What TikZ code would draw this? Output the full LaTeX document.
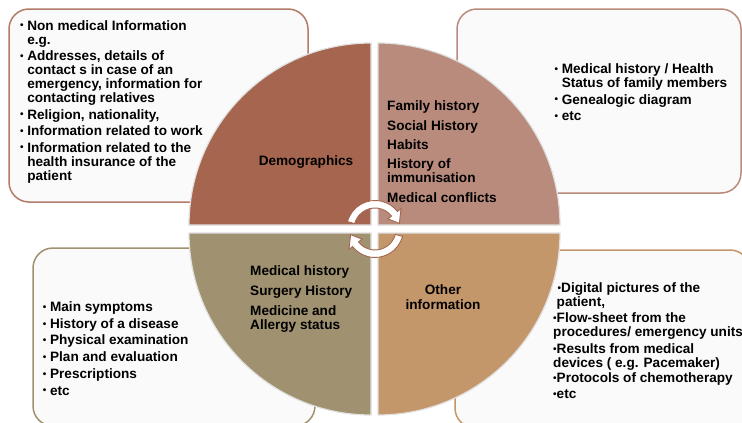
\documentclass[tikz,border=0pt]{standalone}
\usepackage{fontspec}
\setmainfont{Liberation Sans}

\definecolor{demoCol}{HTML}{A5654F}
\definecolor{famCol}{HTML}{B98B7D}
\definecolor{medCol}{HTML}{A09270}
\definecolor{othCol}{HTML}{C4976B}

\newcommand{\bul}{\makebox[7.3pt][l]{\fontsize{10}{10}\selectfont\raisebox{1.2pt}{•}}}
\newcommand{\sbul}{{\fontsize{10}{10}\selectfont\raisebox{1.2pt}{•}}}
\newcommand{\cont}{\hspace*{7.3pt}}

\tikzset{
	sector/.style={draw=black!12, line width=1.2pt},
	infobox/.style={rounded corners=20pt, line width=1.5pt, fill=white!98!black},
	txt/.style={inner sep=0pt, align=left, font=\fontsize{13.6}{14}\selectfont\bfseries},
	cycarrow/.style={draw=demoCol, fill=white, line width=0.9pt}
}

\begin{document}
\begin{tikzpicture}[x=1pt,y=1pt,yscale=-1,xscale=1]
	\path[use as bounding box] (0,0) rectangle (742,423);
	\clip (0,0) rectangle (742,423);
	\fill[white] (0,0) rectangle (742,423);
	
	%Rounded Rect
	\draw[infobox, draw=demoCol!85!white] (9,9) rectangle (308,202);
	%Rounded Rect
	\draw[infobox, draw=famCol] (457,9) rectangle (741,193);
	%Rounded Rect
	\draw[infobox, draw=medCol] (33,248) rectangle (315,426);
	%Rounded Rect
	\draw[infobox, draw=othCol] (455,250) rectangle (750,428);
	
	%Sector
	\draw[sector, fill=demoCol] (371,225) -- (189,225) arc[start angle=180, end angle=270, radius=182] -- cycle;
	%Sector
	\draw[sector, fill=famCol] (378,225) -- (378,43) arc[start angle=270, end angle=360, radius=182] -- cycle;
	%Sector
	\draw[sector, fill=medCol] (371,233) -- (371,415) arc[start angle=90, end angle=180, radius=182] -- cycle;
	%Sector
	\draw[sector, fill=othCol] (378,233) -- (560,233) arc[start angle=0, end angle=90, radius=182] -- cycle;
	
	%Cycle arrows
	\foreach \rot in {0,180}{
		\begin{scope}[shift={(375,229)}, rotate=\rot]
			\draw[cycarrow] (195:28.5) arc[start angle=195, end angle=322, radius=28.5] -- (322:33) -- (347:25) -- (322:16.5) -- (322:21) arc[start angle=322, end angle=195, radius=21] -- cycle;
		\end{scope}
	}
	
	% Text Node (anchored at the baseline of the last line)
	\draw (19.8,180) node (demoinfo) [txt, anchor=base west] {\bul Non medical Information\\ \cont e.g.\\[2.5pt] \bul Addresses, details of\\ \cont contact s in case of an\\ \cont emergency, information for\\ \cont contacting relatives\\[2.5pt] \bul Religion, nationality,\\[2.5pt] \bul Information related to work\\[2.5pt] \bul Information related to the\\ \cont health insurance of the\\ \cont patient};
	% Text Node
	\draw (306,165.7) node (demog) [txt, anchor=base] {Demographics};
	% Text Node
	\draw (387,202) node (famhist) [txt, anchor=base west] {Family history\\[5.3pt] Social History\\[5.3pt] Habits\\[5.3pt] History of\\ immunisation\\[5.3pt] Medical conflicts};
	% Text Node
	\draw (554.3,120.7) node (faminfo) [txt, anchor=base west] {\bul Medical history / Health\\ \cont Status of family members\\[2.7pt] \bul Genealogic diagram\\[2.7pt] \bul etc};
	% Text Node
	\draw (250,329) node (medhist) [txt, anchor=base west] {Medical history\\[6pt] Surgery History\\[6pt] Medicine and\\ Allergy status};
	% Text Node
	\draw (42.6,395) node (medinfo) [txt, anchor=base west] {\bul Main symptoms\\[2.7pt] \bul History of a disease\\[2.7pt] \bul Physical examination\\[2.7pt] \bul Plan and evaluation\\[2.7pt] \bul Prescriptions\\[2.7pt] \bul etc};
	% Text Node
	\draw (443,309) node (other) [txt, anchor=base, align=center] {Other\\[1pt] information};
	% Text Node
	\draw (553,398.3) node (othinfo) [txt, anchor=base west] {\hspace*{4.5pt}\sbul Digital pictures of the\\ \hspace*{3.5pt}patient,\\[2pt] \sbul Flow-sheet from the\\ procedures/ emergency units\\[2.5pt] \sbul Results from medical\\ devices ( e.g. Pacemaker)\\[1.5pt] \sbul Protocols of chemotherapy\\[1.5pt] \sbul etc};
	
\end{tikzpicture}
\end{document}
